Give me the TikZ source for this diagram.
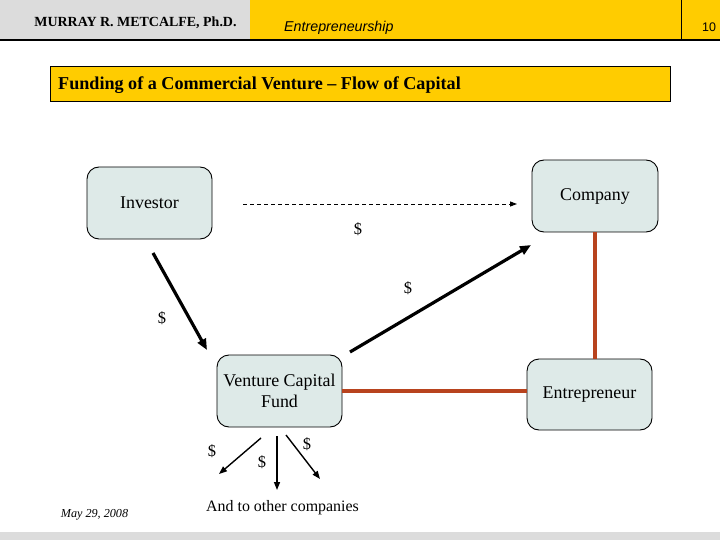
\documentclass[tikz,border=0pt]{standalone}
\usepackage{fontspec}
\setmainfont{Liberation Serif}
\newfontfamily\arialf{Liberation Sans}
\usetikzlibrary{arrows.meta}
\definecolor{hdrgrey}{HTML}{DCDCDC}
\definecolor{hdryellow}{HTML}{FFCC00}
\definecolor{boxfill}{HTML}{DEEAE8}
\definecolor{redline}{HTML}{B8431E}
\tikzset{
  rbox/.style={draw=black, line width=0.9bp, fill=boxfill, rounded corners=12bp, align=center, font=\fontsize{18}{21}\selectfont, inner sep=2bp},
  thickarrow/.style={line width=3.2bp, -{Triangle[length=11bp,width=9bp]}},
  thinarrow/.style={line width=1.4bp, -{Triangle[length=8bp,width=6bp]}},
  redconn/.style={draw=redline, line width=3.4bp},
  dollar/.style={font=\fontsize{16.5}{18}\selectfont, inner sep=0pt},
}
\begin{document}
\begin{tikzpicture}[x=1bp,y=-1bp]
\useasboundingbox (0,0) rectangle (720,540);
% header
\fill[hdrgrey] (0,0) rectangle (250,40);
\fill[hdryellow] (250,0) rectangle (720,40);
\draw[line width=1bp] (681,0) -- (681,40);
\draw[line width=1.5bp] (0,40) -- (720,40);
\node[font=\bfseries\fontsize{14}{16}\selectfont, inner sep=0pt] (author) at (135.5,22.5) {MURRAY R. METCALFE, Ph.D.};
\node[font=\arialf\itshape\fontsize{14.3}{16}\selectfont, inner sep=0pt, anchor=west] (course) at (284,28) {Entrepreneurship};
\node[font=\arialf\fontsize{12.5}{14}\selectfont, inner sep=0pt] (pagenum) at (709,27) {10};
% title
\draw[fill=hdryellow, line width=1bp] (50,67) rectangle (670,102);
\node[font=\bfseries\fontsize{18.2}{20}\selectfont, inner sep=0pt, anchor=west] (title) at (58,85) {Funding of a Commercial Venture -- Flow of Capital};
% boxes
\node[rbox, minimum width=125bp, minimum height=72bp] (inv) at (149.5,203) {Investor};
\node[rbox, minimum width=126bp, minimum height=72bp] (comp) at (595,196) {Company};
\node[rbox, minimum width=125bp, minimum height=72bp] (vcf) at (279.5,391) {Venture Capital\\Fund};
\node[rbox, minimum width=125bp, minimum height=71bp] (entre) at (589.5,394.5) {Entrepreneur};
% red connections
\draw[redconn] (comp.south) -- (comp.south |- entre.north);
\draw[redconn] (vcf.east) -- (vcf.east -| entre.west);
% dashed
\coordinate (d1) at (243,204);
\coordinate (d2) at (517,204);
\draw[line width=0.9bp, dash pattern=on 4bp off 3bp, -{Triangle[length=7bp,width=5bp]}] (d1) -- (d2);
\node[dollar] (s1) at (358,229) {\$};
% thick arrows
\coordinate (a1) at (153,253);
\coordinate (a2) at (207,350);
\draw[thickarrow] (a1) -- (a2);
\node[dollar] (s2) at (162,318) {\$};
\coordinate (b1) at (350,352);
\coordinate (b2) at (531,245);
\draw[thickarrow] (b1) -- (b2);
\node[dollar] (s3) at (408,288) {\$};
% bottom arrows
\coordinate (c1) at (261,438);
\coordinate (c2) at (219,474);
\coordinate (e1) at (277,436);
\coordinate (e2) at (277,490);
\coordinate (f1) at (286,435);
\coordinate (f2) at (320,479);
\draw[thinarrow] (c1) -- (c2);
\draw[thinarrow] (e1) -- (e2);
\draw[thinarrow] (f1) -- (f2);
\node[dollar] (s4) at (212,451) {\$};
\node[dollar] (s5) at (262,462) {\$};
\node[dollar] (s6) at (307,444) {\$};
\node[font=\fontsize{16}{18}\selectfont, inner sep=0pt] (others) at (282.5,508) {And to other companies};
\node[font=\itshape\fontsize{12.2}{13}\selectfont, inner sep=0pt] (date) at (94.5,515) {May 29, 2008};
% bottom bar
\fill[hdrgrey] (0,532) rectangle (720,540);
\end{tikzpicture}
\end{document}
